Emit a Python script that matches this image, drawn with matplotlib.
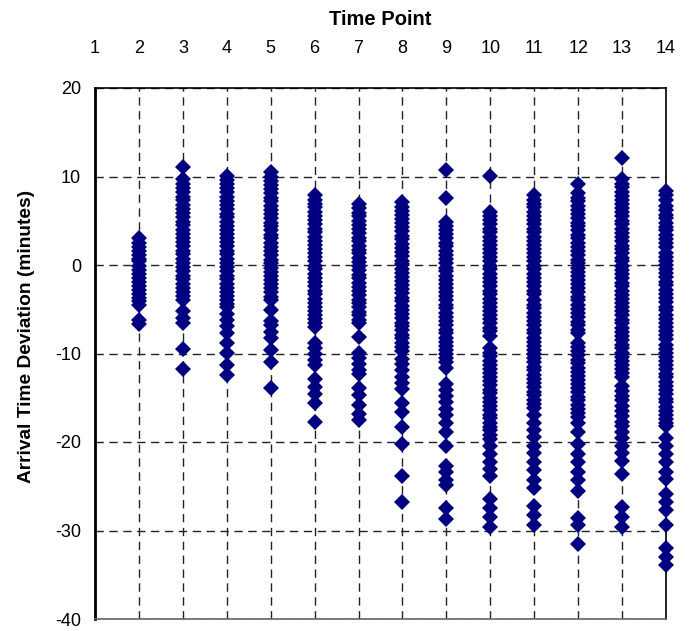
import matplotlib
matplotlib.use("Agg")
import matplotlib.pyplot as plt

plt.rcParams['font.family'] = ['Liberation Sans', 'DejaVu Sans']
plt.rcParams['axes.unicode_minus'] = False

time_points = [2, 3, 4, 5, 6, 7, 8, 9, 10, 11, 12, 13, 14]

# arrival time deviation (minutes), one list per time point
dev_t2 = [3.0, 2.5, 2.0, 1.6, 1.1, 0.7, 0.4, -0.1, -0.6, -1.0, -1.5, -1.9, -2.4, -2.8,
          -3.3, -3.7, -4.1, -4.5, -6.2, -6.7]
dev_t3 = [11.1, 9.7, 9.2, 8.7, 8.2, 7.7, 7.3, 6.8, 6.3, 5.9, 5.4, 4.9, 4.5, 4.0, 3.5,
          3.1, 2.6, 2.1, 1.6, 1.2, 0.7, 0.2, -0.2, -0.7, -1.2, -1.6, -2.1, -2.6, -3.0,
          -3.5, -3.9, -5.2, -6.0, -6.5, -9.5, -11.8]
dev_t4 = [10.1, 9.6, 9.1, 8.7, 8.2, 7.7, 7.2, 6.8, 6.3, 5.8, 5.4, 4.9, 4.4, 4.0, 3.5,
          3.0, 2.6, 2.1, 1.6, 1.2, 0.7, 0.2, -0.2, -0.7, -1.2, -1.6, -2.1, -2.6, -3.0,
          -3.5, -4.0, -4.4, -4.8, -5.5, -6.2, -6.9, -7.7, -8.8, -9.9, -11.3, -12.4]
dev_t5 = [10.5, 10.0, 9.5, 9.0, 8.6, 8.1, 7.6, 7.2, 6.7, 6.2, 5.8, 5.3, 4.8, 4.4, 3.9,
          3.4, 3.0, 2.5, 2.0, 1.6, 1.1, 0.6, 0.2, -0.3, -0.8, -1.2, -1.7, -2.2, -2.6,
          -3.1, -3.6, -4.0, -5.1, -6.3, -6.8, -7.6, -8.2, -9.6, -11.0, -13.9]
dev_t6 = [7.9, 7.4, 6.9, 6.5, 6.0, 5.5, 5.1, 4.6, 4.1, 3.7, 3.2, 2.7, 2.3, 1.8, 1.3,
          0.9, 0.4, -0.1, -0.5, -1.0, -1.5, -1.9, -2.4, -2.9, -3.3, -3.8, -4.3, -4.7,
          -5.2, -5.7, -6.1, -6.6, -7.0, -8.8, -9.4, -10.1, -10.7, -11.3, -12.9, -13.8,
          -14.6, -15.6, -17.7]
dev_t7 = [6.9, 6.4, 5.9, 5.5, 5.0, 4.5, 4.1, 3.6, 3.1, 2.7, 2.2, 1.7, 1.3, 0.8, 0.3,
          -0.1, -0.6, -1.1, -1.5, -2.0, -2.5, -2.9, -3.4, -3.9, -4.3, -4.8, -5.3, -5.7,
          -6.2, -6.6, -8.1, -9.9, -10.5, -11.2, -11.9, -12.3, -13.9, -14.7, -15.8,
          -16.8, -17.5]
dev_t8 = [7.1, 6.6, 6.1, 5.7, 5.2, 4.7, 4.3, 3.8, 3.3, 2.9, 2.4, 1.9, 1.5, 1.0, 0.5,
          0.1, -0.4, -0.9, -1.3, -1.8, -2.3, -2.7, -3.2, -3.7, -4.1, -4.6, -5.1, -5.5,
          -6.0, -6.5, -6.9, -7.4, -7.9, -8.3, -8.8, -9.3, -9.7, -10.6, -11.2, -11.9,
          -12.6, -13.3, -14.0, -15.6, -16.6, -18.3, -20.2, -23.8, -26.8]
dev_t9 = [10.7, 7.6, 4.9, 4.4, 3.9, 3.5, 3.0, 2.5, 2.1, 1.6, 1.1, 0.7, 0.2, -0.3, -0.7,
          -1.2, -1.7, -2.1, -2.6, -3.1, -3.5, -4.0, -4.5, -4.9, -5.4, -5.9, -6.3, -6.8,
          -7.3, -7.7, -8.2, -8.7, -9.1, -9.6, -10.1, -10.5, -11.0, -11.6, -13.5, -14.1,
          -14.8, -15.5, -16.3, -17.0, -17.8, -18.9, -20.4, -22.7, -23.4, -24.3, -24.9,
          -27.5, -28.7]
dev_t10 = [10.1, 6.0, 5.5, 5.1, 4.6, 4.1, 3.7, 3.2, 2.7, 2.3, 1.8, 1.3, 0.9, 0.4, -0.1,
           -0.5, -1.0, -1.5, -1.9, -2.4, -2.9, -3.3, -3.8, -4.3, -4.7, -5.2, -5.7, -6.1,
           -6.6, -7.1, -7.5, -8.0, -9.4, -9.9, -10.3, -10.8, -11.3, -11.7, -12.2, -12.7,
           -13.1, -13.6, -14.1, -14.5, -15.0, -15.5, -15.9, -16.4, -16.9, -17.3, -17.8,
           -18.3, -18.7, -19.2, -19.7, -20.4, -21.4, -22.3, -23.0, -23.8, -26.4, -27.5,
           -28.5, -29.6]
dev_t11 = [7.9, 7.4, 6.9, 6.5, 6.0, 5.5, 5.1, 4.6, 4.1, 3.7, 3.2, 2.7, 2.3, 1.8, 1.3,
           0.9, 0.4, -0.1, -0.5, -1.0, -1.5, -1.9, -2.4, -2.9, -3.3, -4.0, -4.5, -4.9,
           -5.4, -5.9, -6.3, -6.8, -7.3, -7.7, -8.2, -8.7, -9.1, -9.6, -10.1, -10.5,
           -11.0, -11.5, -11.9, -12.4, -12.9, -13.3, -13.8, -14.3, -14.7, -15.2, -15.7,
           -16.2, -17.0, -17.8, -18.6, -19.4, -20.4, -21.2, -22.3, -23.2, -24.3, -25.2,
           -27.2, -28.3, -29.4]
dev_t12 = [9.1, 8.1, 7.6, 7.2, 6.7, 6.2, 5.8, 5.3, 4.8, 4.4, 3.9, 3.4, 3.0, 2.5, 2.0,
           1.6, 1.1, 0.6, 0.2, -0.3, -0.8, -1.2, -1.7, -2.2, -2.6, -3.1, -3.6, -4.0,
           -4.5, -5.0, -5.4, -5.9, -6.4, -6.8, -7.3, -7.7, -8.8, -9.3, -9.7, -10.2,
           -10.7, -11.1, -11.6, -12.1, -12.5, -13.0, -13.5, -13.9, -14.4, -14.9, -15.3,
           -15.8, -16.3, -16.7, -17.2, -17.8, -18.9, -20.2, -21.4, -22.3, -23.4, -24.3,
           -25.5, -28.6, -29.4, -31.5]
dev_t13 = [12.1, 9.7, 9.2, 8.8, 8.3, 7.8, 7.4, 6.9, 6.4, 6.0, 5.5, 5.0, 4.6, 4.1, 3.6,
           3.2, 2.7, 2.2, 1.8, 1.3, 0.8, 0.4, -0.1, -0.6, -1.0, -1.5, -2.0, -2.4, -2.9,
           -3.4, -3.8, -4.3, -4.8, -5.2, -5.7, -6.2, -6.6, -7.1, -7.6, -8.0, -8.5, -9.0,
           -9.4, -9.9, -10.4, -10.8, -11.3, -11.8, -12.2, -12.7, -13.7, -14.2, -14.8,
           -15.3, -15.9, -16.5, -17.1, -17.7, -18.2, -18.9, -19.6, -20.4, -21.2, -22.1,
           -23.6, -27.3, -28.5, -29.6]
dev_t14 = [8.4, 7.9, 7.4, 6.7, 6.2, 5.7, 5.3, 4.8, 4.3, 3.9, 3.4, 2.9, 2.5, 2.0, 1.4,
           0.9, 0.5, 0.0, -0.5, -0.9, -1.4, -1.9, -2.3, -2.8, -3.3, -3.7, -4.2, -4.7,
           -5.1, -5.6, -6.1, -6.5, -7.0, -7.5, -7.9, -8.4, -9.0, -9.5, -9.9, -10.4,
           -10.9, -11.3, -11.8, -12.3, -12.7, -13.2, -13.7, -14.1, -14.6, -15.1, -15.5,
           -16.0, -16.5, -16.9, -17.4, -17.9, -18.2, -19.5, -20.4, -21.4, -22.3, -23.4,
           -24.2, -25.9, -26.8, -27.7, -29.4, -32.0, -33.0, -33.9]

deviations = [dev_t2, dev_t3, dev_t4, dev_t5, dev_t6, dev_t7, dev_t8, dev_t9,
              dev_t10, dev_t11, dev_t12, dev_t13, dev_t14]

x_ticks = list(range(1, 15))
y_ticks = [-40, -30, -20, -10, 0, 10, 20]

fig = plt.figure(figsize=(6.91, 6.31), dpi=100)
ax = fig.add_axes([95 / 691, 1 - 619 / 631, (666 - 95) / 691, (619 - 88) / 631])

for tp, vals in zip(time_points, deviations):
    ax.plot([tp] * len(vals), vals, linestyle='none', marker='D', markersize=8.2,
            color='#000080', markeredgewidth=0, clip_on=False, zorder=3)

ax.set_xlim(1, 14)
ax.set_ylim(-40, 20)
ax.set_xticks(x_ticks)
ax.set_yticks(y_ticks)
ax.xaxis.tick_top()
ax.xaxis.set_label_position('top')
ax.tick_params(axis='x', length=0, pad=22, labelsize=13)
ax.tick_params(axis='y', length=0, pad=10, labelsize=13)

ax.grid(True, color='#222222', linestyle=(0, (6, 4)), linewidth=1.0, zorder=1)
ax.set_axisbelow(True)

for side in ['top', 'right', 'bottom']:
    ax.spines[side].set_linewidth(1.2)
    ax.spines[side].set_color('black')
ax.spines['bottom'].set_color('#666666')
ax.spines['left'].set_linewidth(2)

ax.set_xlabel("Time Point", fontsize=14.5, fontweight='bold', labelpad=11)
ax.set_ylabel("Arrival Time Deviation (minutes)", fontsize=13.8, fontweight='bold')
ax.yaxis.set_label_coords(-60 / 571, (619 - 336) / 531)

fig.savefig("out.png", dpi=100)
